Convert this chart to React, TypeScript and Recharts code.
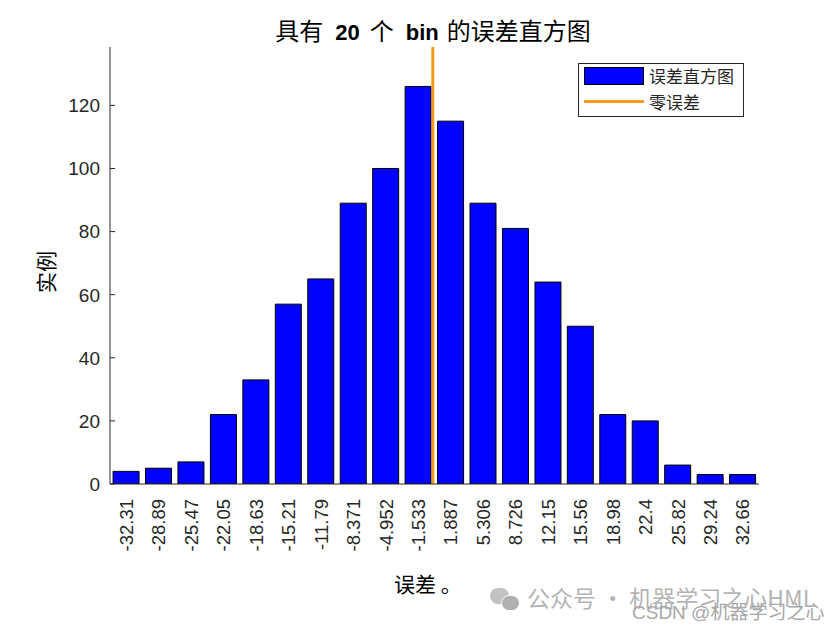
import React from "react"
import {
  Bar,
  BarChart,
  ReferenceLine,
  XAxis,
  YAxis,
} from "recharts"

// bin centres as printed under the bars
const binCenters = [
  -32.31, -28.89, -25.47, -22.05, -18.63, -15.21, -11.79,
  -8.371, -4.952, -1.533, 1.887, 5.306, 8.726, 12.15,
  15.56, 18.98, 22.4, 25.82, 29.24, 32.66,
]
const counts = [4, 5, 7, 22, 33, 57, 65, 89, 100, 126, 115, 89, 81, 64, 50, 22, 20, 6, 3, 3]
const yTicks = [0, 20, 40, 60, 80, 100, 120]
const errorRange = [-34.02, 34.37]
const zeroError = 0

const data = binCenters.map((center, i) => ({ center, count: counts[i] }))

const cjk = '"Noto Sans CJK SC", sans-serif'
const latin = '"Liberation Sans", Arial, sans-serif'
const ink = "#262626"

function BinTick(props: any) {
  const { x, y, payload } = props
  return (
    <g transform={`translate(${x},${y})`}>
      <text
        x={-7}
        y={0}
        dy="0.36em"
        transform="rotate(-90)"
        textAnchor="end"
        fontFamily={latin}
        fontSize={18.5}
        fill={ink}
      >
        {String(payload.value)}
      </text>
    </g>
  )
}

function CountTick(props: any) {
  const { x, y, payload } = props
  return (
    <text
      x={x}
      y={y}
      dy="0.36em"
      textAnchor="end"
      fontFamily={latin}
      fontSize={19}
      fill={ink}
    >
      {payload.value}
    </text>
  )
}

const gap = (w: number) => <span style={{ display: "inline-block", width: w }} />

export default function App() {
  return (
    <div style={{ position: "absolute", left: 0, top: 0, width: 840, height: 630, background: "#fff" }}>
      <BarChart
        width={840}
        height={630}
        data={data}
        margin={{ top: 47, right: 81, left: 60, bottom: 66 }}
      >
        <XAxis
          dataKey="center"
          type="number"
          domain={errorRange}
          ticks={binCenters}
          interval={0}
          tick={<BinTick />}
          tickLine={false}
          axisLine={{ stroke: ink }}
          height={80}
          allowDataOverflow
        />
        <YAxis
          domain={[0, 138.5]}
          ticks={yTicks}
          width={50}
          tickSize={-5}
          tickMargin={15}
          axisLine={{ stroke: ink }}
          tickLine={{ stroke: ink }}
          tick={<CountTick />}
          allowDataOverflow
        />
        <Bar
          dataKey="count"
          fill="#0000ff"
          stroke="#000"
          strokeWidth={1}
          barSize={26}
          isAnimationActive={false}
        />
        <ReferenceLine x={zeroError} stroke="#f59a1b" strokeWidth={3} />
      </BarChart>

      {/* title */}
      <div
        style={{
          position: "absolute",
          top: 15,
          left: 0,
          width: 866,
          textAlign: "center",
          color: "#000",
          fontFamily: cjk,
          fontSize: 24,
          lineHeight: "30px",
          whiteSpace: "nowrap",
        }}
      >
        具有{gap(12)}<b style={{ fontFamily: latin, fontSize: 22 }}>20</b>{gap(10)}个{gap(12)}
        <b style={{ fontFamily: latin, fontSize: 22 }}>bin</b>{gap(8)}的误差直方图
      </div>

      {/* legend */}
      <div
        style={{
          position: "absolute",
          left: 578,
          top: 63,
          width: 164,
          height: 52,
          border: "1px solid #262626",
          background: "#fff",
          fontFamily: cjk,
          fontSize: 17,
          color: ink,
        }}
      >
        <div style={{ position: "absolute", left: 5, top: 3, width: 58, height: 16, background: "#0000ff", border: "1px solid #000" }} />
        <div style={{ position: "absolute", left: 70, top: 0, lineHeight: "24px" }}>误差直方图</div>
        <div style={{ position: "absolute", left: 5, top: 36, width: 60, height: 3, background: "#f59a1b" }} />
        <div style={{ position: "absolute", left: 70, top: 26, lineHeight: "24px" }}>零误差</div>
      </div>

      {/* y label */}
      <div
        style={{
          position: "absolute",
          left: 45,
          top: 272,
          transform: "translate(-50%, -50%) rotate(-90deg)",
          fontFamily: cjk,
          fontSize: 21,
          color: "#000",
          whiteSpace: "nowrap",
        }}
      >
        实例
      </div>

      {/* x label */}
      <div
        style={{
          position: "absolute",
          left: 394,
          top: 568,
          fontFamily: cjk,
          fontSize: 21,
          color: "#000",
          whiteSpace: "nowrap",
        }}
      >
        误差 。
      </div>

      {/* watermark */}
      <div
        style={{
          position: "absolute",
          left: 490,
          top: 580,
          fontFamily: cjk,
          fontSize: 23,
          color: "#b4b4b4",
          whiteSpace: "nowrap",
        }}
      >
        <span style={{ position: "relative", display: "inline-block", width: 30, height: 22, marginRight: 7, verticalAlign: "-3px" }}>
          <span style={{ position: "absolute", left: 0, top: 0, width: 19, height: 16, borderRadius: 9, background: "#c2c2c2" }} />
          <span style={{ position: "absolute", left: 11, top: 7, width: 17, height: 14, borderRadius: 8, background: "#b0b0b0", border: "1px solid #fff" }} />
        </span>
        公众号 · 机器学习之心HML
      </div>
      <div
        style={{
          position: "absolute",
          left: 632,
          top: 597,
          fontFamily: cjk,
          fontSize: 19,
          color: "#a8a8a8",
          whiteSpace: "nowrap",
        }}
      >
        <span style={{ fontFamily: latin }}>CSDN @</span>机器学习之心
      </div>
    </div>
  )
}
